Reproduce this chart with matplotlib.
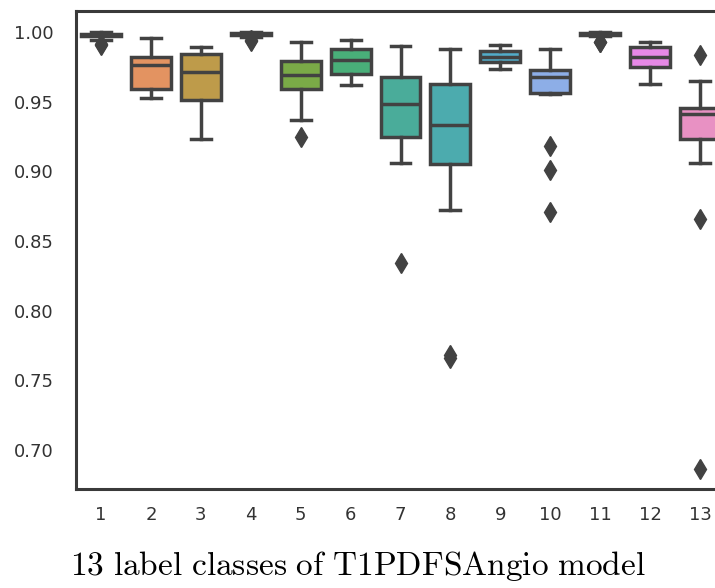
# Boxplot of Dice scores per label class (T1PDFSAngio model)

import numpy as np
import matplotlib
matplotlib.use("Agg")
import matplotlib.pyplot as plt
import seaborn as sns

# values
classes = [str(i) for i in range(1, 14)]
whislo = [0.9943, 0.953, 0.923, 0.9965, 0.937, 0.962, 0.906, 0.872, 0.9734, 0.9555, 0.997, 0.963, 0.906]
q1 = [0.9975, 0.959, 0.951, 0.998, 0.959, 0.970, 0.925, 0.905, 0.9787, 0.9564, 0.998, 0.975, 0.923]
med = [0.998, 0.976, 0.971, 0.9985, 0.969, 0.980, 0.948, 0.933, 0.982, 0.968, 0.9985, 0.982, 0.941]
q3 = [0.9989, 0.982, 0.984, 0.9995, 0.979, 0.988, 0.968, 0.963, 0.9866, 0.9727, 0.9995, 0.9895, 0.9457]
whishi = [1.0, 0.996, 0.9895, 1.0, 0.993, 0.994, 0.990, 0.9876, 0.991, 0.9876, 1.0, 0.993, 0.965]
fliers = [
    [0.991, 0.9915],
    [],
    [],
    [0.994, 0.9935],
    [0.925],
    [],
    [0.834],
    [0.768, 0.766],
    [],
    [0.918, 0.901, 0.871],
    [0.993, 0.9925],
    [],
    [0.9835, 0.866, 0.686],
]
yticks = [0.70, 0.75, 0.80, 0.85, 0.90, 0.95, 1.00]

# seaborn-like colours for many categories
pal = [sns.desaturate(c, 0.75) for c in sns.husl_palette(len(classes), l=0.7)]
gray = "#424242"

stats = []
for i in range(len(classes)):
    stats.append(dict(med=med[i], q1=q1[i], q3=q3[i], whislo=whislo[i],
                      whishi=whishi[i], fliers=fliers[i], label=classes[i]))

fig = plt.figure(figsize=(7.15, 5.88), dpi=100)
ax = fig.add_axes([76 / 715, 1 - 489 / 588, 649 / 715, 478 / 588])

lw = 2.5
bp = ax.bxp(stats, positions=np.arange(len(classes)), widths=0.8,
            patch_artist=True,
            boxprops=dict(edgecolor=gray, linewidth=lw),
            medianprops=dict(color=gray, linewidth=lw),
            whiskerprops=dict(color=gray, linewidth=lw),
            capprops=dict(color=gray, linewidth=lw),
            flierprops=dict(marker="d", markerfacecolor=gray, markeredgecolor=gray,
                            markersize=10, linestyle="none"))
for patch, c in zip(bp["boxes"], pal):
    patch.set_facecolor(c)

ax.set_xlim(-0.5, len(classes) - 0.5)
ax.set_ylim(0.672, 1.0151)
ax.set_xticks(np.arange(len(classes)))
ax.set_xticklabels(classes)
ax.set_yticks(yticks)
ax.set_yticklabels(["%.2f" % v for v in yticks])
ax.tick_params(axis="both", length=0, labelsize=13, labelcolor="#333333")
ax.tick_params(axis="y", pad=16)
ax.tick_params(axis="x", pad=12)
for sp in ax.spines.values():
    sp.set_color("#3a3a3a")
    sp.set_linewidth(2.2)

plt.rcParams["mathtext.fontset"] = "cm"
fig.text(0.5, 1 - 566 / 588, r"$\mathrm{13\ label\ classes\ of\ T1PDFSAngio\ model}$",
         ha="center", va="center", fontsize=24)

fig.savefig("out.png", dpi=100)
